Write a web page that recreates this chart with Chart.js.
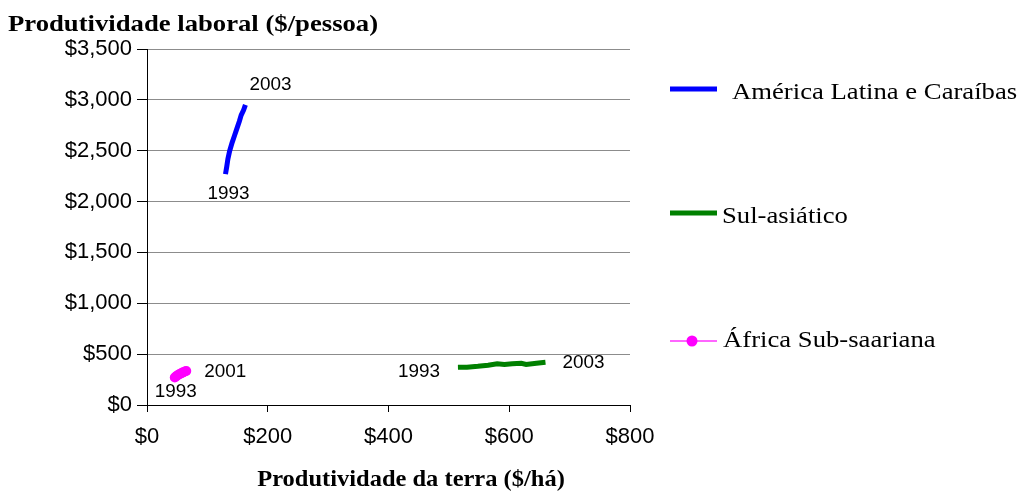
<!DOCTYPE html>
<html>
<head>
<meta charset="utf-8">
<script src="https://cdn.jsdelivr.net/npm/chart.js@4.4.0/dist/chart.umd.min.js"></script>
<style>
  html, body { margin: 0; padding: 0; background: #fff; }
  #wrap { width: 1018px; height: 492px; position: relative; }
</style>
</head>
<body>
<div id="wrap"><canvas id="chart" width="1018" height="492"></canvas></div>
<script>
// ========== DADOS ==========
const xTicks = [0, 200, 400, 600, 800];
const yTicks = [0, 500, 1000, 1500, 2000, 2500, 3000, 3500];

// América Latina e Caraíbas, 1993-2003
const latamX = [130, 132, 134, 137, 141, 145, 149, 153, 156, 160, 163];
const latamY = [2270, 2340, 2420, 2500, 2580, 2650, 2720, 2790, 2850, 2900, 2950];

// Sul-asiático, 1993-2003
const asiaX = [515, 530, 548, 565, 580, 592, 605, 620, 628, 645, 660];
const asiaY = [370, 372, 380, 390, 405, 398, 405, 410, 398, 410, 420];

// África Sub-saariana, 1993-2001
const africaX = [46, 48, 50, 53, 55, 58, 60, 63, 65];
const africaY = [270, 280, 290, 300, 308, 316, 322, 330, 335];

const seriesNames = ['América Latina e Caraíbas', 'Sul-asiático', 'África Sub-saariana'];

function toPoints(xs, ys) {
    return xs.map((x, i) => ({ x: x, y: ys[i] }));
}

// texto esticado na horizontal (o original parece esticado)
function wideText(ctx, text, x, y, sx, align) {
    ctx.save();
    ctx.translate(x, y);
    ctx.scale(sx, 1);
    ctx.textAlign = align;
    ctx.fillText(text, 0, 0);
    ctx.restore();
}

// ========== ROTULOS DOS ANOS ==========
const yearLabels = {
    0: [{ i: 0, text: '1993', dx: 3, dy: 20 }, { i: latamX.length - 1, text: '2003', dx: 25, dy: -20 }],
    1: [{ i: 0, text: '1993', dx: -39, dy: 5 }, { i: asiaX.length - 1, text: '2003', dx: 38, dy: 1 }],
    2: [{ i: 0, text: '1993', dx: 1, dy: 14 }, { i: africaX.length - 1, text: '2001', dx: 39, dy: 1 }]
};

const yearLabelPlugin = {
    id: 'yearLabels',
    afterDatasetsDraw(chart) {
        const ctx = chart.ctx;
        ctx.save();
        ctx.font = '18px "Liberation Sans", Arial, sans-serif';
        ctx.fillStyle = '#000';
        ctx.textBaseline = 'middle';
        Object.keys(yearLabels).forEach(k => {
            const meta = chart.getDatasetMeta(+k);
            yearLabels[k].forEach(l => {
                const p = meta.data[l.i];
                wideText(ctx, l.text, p.x + l.dx, p.y + l.dy, 1.05, 'center');
            });
        });
        ctx.restore();
    }
};

// ========== TITULOS E LEGENDA ==========
const extrasPlugin = {
    id: 'extras',
    afterDraw(chart) {
        const ctx = chart.ctx;
        ctx.save();
        ctx.fillStyle = '#000';
        ctx.textBaseline = 'middle';
        ctx.font = 'bold 23px "Liberation Serif", "Times New Roman", serif';
        wideText(ctx, 'Produtividade laboral ($/pessoa)', 8, 25, 1.16, 'left');
        ctx.font = 'bold 24px "Liberation Serif", "Times New Roman", serif';
        wideText(ctx, 'Produtividade da terra ($/há)', 411, 480, 1.02, 'center');

        // legenda
        const ds = chart.data.datasets;
        const rows = [
            { y: 89, tx: 732, ty: 93 },
            { y: 213, tx: 722, ty: 217 },
            { y: 341, tx: 723, ty: 341 }
        ];
        ctx.font = '23px "Liberation Serif", "Times New Roman", serif';
        rows.forEach((r, i) => {
            ctx.beginPath();
            ctx.strokeStyle = i === 2 ? '#ff66ff' : ds[i].borderColor;
            ctx.lineWidth = i === 2 ? 2 : 5;
            ctx.moveTo(670, r.y);
            ctx.lineTo(717, r.y);
            ctx.stroke();
            if (i === 2) {
                ctx.beginPath();
                ctx.fillStyle = '#ff00ff';
                ctx.arc(692, r.y, 5.5, 0, Math.PI * 2);
                ctx.fill();
            }
            ctx.fillStyle = '#000';
            wideText(ctx, seriesNames[i], r.tx, r.ty, 1.16, 'left');
        });
        ctx.restore();
    }
};

// ========== GRAFICO ==========
const tickFont = { family: '"Liberation Sans", Arial, sans-serif', size: 22 };
const ctx = document.getElementById('chart').getContext('2d');
new Chart(ctx, {
    type: 'scatter',
    data: {
        datasets: [
            {
                label: seriesNames[0],
                data: toPoints(latamX, latamY),
                showLine: true,
                borderColor: '#0000ff',
                borderWidth: 5,
                pointRadius: 0,
                tension: 0
            },
            {
                label: seriesNames[1],
                data: toPoints(asiaX, asiaY),
                showLine: true,
                borderColor: '#008000',
                borderWidth: 5,
                pointRadius: 0,
                tension: 0
            },
            {
                label: seriesNames[2],
                data: toPoints(africaX, africaY),
                showLine: true,
                borderColor: '#ff00ff',
                backgroundColor: '#ff00ff',
                borderWidth: 2,
                pointRadius: 5,
                pointBorderWidth: 0,
                tension: 0
            }
        ]
    },
    options: {
        responsive: false,
        animation: false,
        layout: { padding: { top: 49, right: 388, left: 0, bottom: 0 } },
        plugins: {
            legend: { display: false },
            tooltip: { enabled: false }
        },
        scales: {
            x: {
                type: 'linear',
                min: xTicks[0],
                max: xTicks[xTicks.length - 1],
                afterBuildTicks: s => { s.ticks = xTicks.map(v => ({ value: v })); },
                afterFit: s => { s.height = 87; },
                border: { color: '#000', width: 1 },
                grid: { drawOnChartArea: false, drawTicks: true, tickLength: 7, tickColor: '#000' },
                ticks: {
                    color: '#000',
                    padding: 12,
                    font: tickFont,
                    callback: v => '$' + v.toLocaleString('en-US')
                }
            },
            y: {
                type: 'linear',
                min: yTicks[0],
                max: yTicks[yTicks.length - 1],
                afterBuildTicks: s => { s.ticks = yTicks.map(v => ({ value: v })); },
                afterFit: s => { s.width = 147; },
                border: { color: '#000', width: 1 },
                grid: { color: '#8c8c8c', lineWidth: 1, drawTicks: true, tickLength: 10, tickColor: '#000' },
                ticks: {
                    color: '#000',
                    padding: 5,
                    font: tickFont,
                    callback: v => '$' + v.toLocaleString('en-US')
                }
            }
        }
    },
    plugins: [yearLabelPlugin, extrasPlugin]
});
</script>
</body>
</html>
